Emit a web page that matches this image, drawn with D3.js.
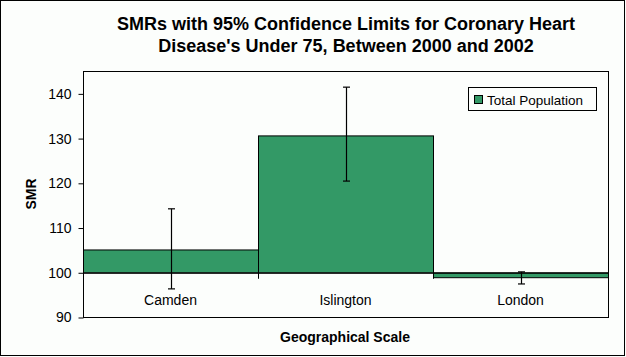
<!DOCTYPE html>
<html>
<head>
<meta charset="utf-8">
<script src="https://cdn.jsdelivr.net/npm/d3@7/dist/d3.min.js"></script>
<style>
  html, body { margin: 0; padding: 0; background: #fcfefc; }
  svg { display: block; }
  text { font-family: Arial, "Liberation Sans", sans-serif; fill: #000; }
</style>
</head>
<body>
<svg id="chart" width="626" height="357"></svg>
<script>
// ---- data ----
const categories = ["Camden", "Islington", "London"];
const smrValues = [105.1, 130.6, 98.9];
const lowerLimits = [96.4, 120.5, 97.5];
const upperLimits = [114.3, 141.5, 100.2];
const yTicks = [90, 100, 110, 120, 130, 140];
const seriesName = "Total Population";
const titleLines = ["SMRs with 95% Confidence Limits for Coronary Heart", "Disease's Under 75, Between 2000 and 2002"];
const xTitle = "Geographical Scale";
const yTitle = "SMR";

// ---- layout ----
const W = 626, H = 357;
const plot = { left: 83, right: 608, top: 71.5, bottom: 317.5 };
const green = "#339966";

const svg = d3.select("#chart");

svg.append("rect").attr("x", 0.5).attr("y", 0.5).attr("width", 624).attr("height", 355)
  .attr("fill", "#fcfefc").attr("stroke", "#000").attr("stroke-width", 1);

const x = d3.scaleBand().domain(categories).range([plot.left, plot.right]).padding(0);
const y = d3.scaleLinear().domain([90, 145]).range([plot.bottom, plot.top]);

// plot area frame
svg.append("rect")
  .attr("x", plot.left + 0.5).attr("y", plot.top)
  .attr("width", plot.right - plot.left).attr("height", plot.bottom - plot.top)
  .attr("fill", "#fcfefc").attr("stroke", "#000").attr("stroke-width", 1);

// bars (from baseline 100)
const base = 100;
svg.append("g").selectAll("rect").data(categories).join("rect")
  .attr("x", d => x(d) + 0.5)
  .attr("y", (d, i) => Math.min(y(smrValues[i]), y(base)))
  .attr("width", x.bandwidth())
  .attr("height", (d, i) => Math.abs(y(smrValues[i]) - y(base)))
  .attr("fill", green).attr("stroke", "#000").attr("stroke-width", 1);

// category axis at value 100
const xAxis = d3.axisBottom(x).tickSize(0).tickFormat("");
svg.append("g").attr("transform", `translate(0.5,${y(base)})`).call(xAxis)
  .call(g => g.select(".domain").attr("stroke", "#000"));
// boundary ticks between categories
const bounds = categories.map(c => x(c)).concat([plot.right]);
svg.append("g").selectAll("line").data(bounds).join("line")
  .attr("x1", d => d + 0.5).attr("x2", d => d + 0.5)
  .attr("y1", y(base)).attr("y2", y(base) + 6)
  .attr("stroke", "#000").attr("stroke-width", 1);

// category labels
svg.append("g").selectAll("text").data(categories).join("text")
  .attr("x", d => x(d) + x.bandwidth() / 2)
  .attr("y", 305)
  .attr("text-anchor", "middle")
  .attr("font-size", "14px")
  .text(d => d);

// error bars
const eb = svg.append("g").attr("stroke", "#000").attr("stroke-width", 1.2);
categories.forEach((c, i) => {
  const cx = Math.round(x(c) + x.bandwidth() / 2) + 0.5;
  eb.append("line").attr("x1", cx).attr("x2", cx).attr("y1", y(upperLimits[i])).attr("y2", y(lowerLimits[i]));
  eb.append("line").attr("x1", cx - 3.5).attr("x2", cx + 3.5).attr("y1", y(upperLimits[i])).attr("y2", y(upperLimits[i]));
  eb.append("line").attr("x1", cx - 3.5).attr("x2", cx + 3.5).attr("y1", y(lowerLimits[i])).attr("y2", y(lowerLimits[i]));
});

// y axis
const yAxis = d3.axisLeft(y).tickValues(yTicks).tickSize(5).tickPadding(7).tickFormat(d3.format("d"));
svg.append("g").attr("transform", `translate(${plot.left + 0.5},0)`).call(yAxis)
  .call(g => g.select(".domain").remove())
  .call(g => g.selectAll("line").attr("stroke", "#000"))
  .call(g => g.selectAll("text").attr("font-size", "14px").attr("font-family", "Arial, 'Liberation Sans', sans-serif").attr("fill", "#000"));

// title
svg.append("g").selectAll("text").data(titleLines).join("text")
  .attr("x", 346).attr("y", (d, i) => 30 + i * 22)
  .attr("text-anchor", "middle")
  .attr("font-size", "18px").attr("font-weight", "bold")
  .text(d => d);

// axis titles
svg.append("text").attr("x", 345).attr("y", 342)
  .attr("text-anchor", "middle").attr("font-size", "14px").attr("font-weight", "bold")
  .text(xTitle);
svg.append("text")
  .attr("transform", `translate(36,194) rotate(-90)`)
  .attr("text-anchor", "middle").attr("font-size", "14px").attr("font-weight", "bold")
  .text(yTitle);

// legend
const lg = svg.append("g");
lg.append("rect").attr("x", 468.5).attr("y", 87.5).attr("width", 128).attr("height", 23)
  .attr("fill", "#fcfefc").attr("stroke", "#000").attr("stroke-width", 1);
lg.append("rect").attr("x", 474.5).attr("y", 95.5).attr("width", 8).attr("height", 8)
  .attr("fill", green).attr("stroke", "#000").attr("stroke-width", 1);
lg.append("text").attr("x", 487).attr("y", 105)
  .attr("font-size", "13.5px").text(seriesName);
</script>
</body>
</html>
